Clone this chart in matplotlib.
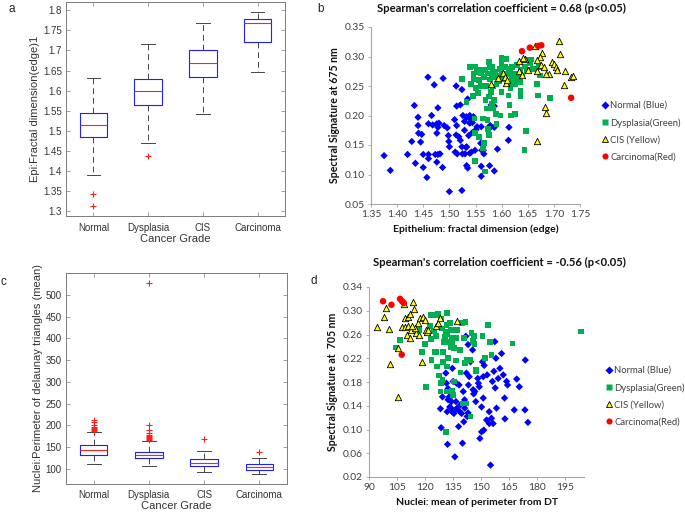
import matplotlib
matplotlib.use("Agg")
import matplotlib.pyplot as plt
from matplotlib.lines import Line2D

W, H = 685, 512

# ---------------- data ----------------
grades = ["Normal", "Dysplasia", "CIS", "Carcinoma"]

# panel a: Epi fractal dimension box stats (whislo, q1, med, q3, whishi)
a_whislo = [1.390, 1.469, 1.542, 1.646]
a_q1 = [1.483, 1.564, 1.634, 1.720]
a_med = [1.514, 1.600, 1.669, 1.768]
a_q3 = [1.544, 1.629, 1.701, 1.778]
a_whishi = [1.631, 1.717, 1.769, 1.797]
a_fliers = [[1.343, 1.311], [1.436], [], []]

# panel c: Nuclei perimeter of delaunay triangles box stats
c_whislo = [111.5, 106.1, 91.5, 87.7]
c_q1 = [132.2, 125.3, 105.4, 97.7]
c_med = [142.2, 131.5, 113.8, 104.6]
c_q3 = [153.7, 137.6, 122.3, 110.7]
c_whishi = [184.4, 164.5, 140.0, 123.8]
c_fliers = [[187, 189, 191, 193, 196, 200, 207, 212],
            [167, 169, 171, 173, 175, 178, 182, 190, 200, 527],
            [168.3], [139.0]]

# panel b scatter: x = epithelium fractal dimension, y = spectral signature at 675 nm
b_normal_x = [1.375, 1.387, 1.420, 1.428, 1.433, 1.435, 1.440, 1.440, 1.441, 1.447, 1.445, 1.450,
              1.450, 1.457, 1.460, 1.460, 1.459, 1.471, 1.488, 1.466, 1.460, 1.468, 1.476, 1.480,
              1.478, 1.476, 1.473, 1.478, 1.482, 1.476, 1.487, 1.478, 1.490, 1.496, 1.498, 1.499,
              1.500, 1.500, 1.524, 1.513, 1.524, 1.535, 1.521, 1.514, 1.510, 1.514, 1.513, 1.511,
              1.515, 1.518, 1.521, 1.524, 1.525, 1.530, 1.532, 1.529, 1.526, 1.533, 1.539, 1.539,
              1.537, 1.533, 1.539, 1.542, 1.533, 1.535, 1.549, 1.544, 1.546, 1.544, 1.553, 1.561,
              1.562, 1.561, 1.561, 1.566, 1.565, 1.578, 1.580, 1.577, 1.586, 1.592, 1.613, 1.614,
              1.586, 1.580, 1.586, 1.560, 1.540, 1.551, 1.529]
b_normal_y = [0.132, 0.107, 0.134, 0.156, 0.217, 0.119, 0.197, 0.183, 0.170, 0.168, 0.155, 0.112,
              0.134, 0.095, 0.134, 0.127, 0.265, 0.252, 0.263, 0.200, 0.186, 0.184, 0.186, 0.187,
              0.180, 0.170, 0.134, 0.134, 0.135, 0.121, 0.112, 0.213, 0.183, 0.179, 0.166, 0.156,
              0.147, 0.071, 0.073, 0.250, 0.244, 0.228, 0.218, 0.216, 0.193, 0.183, 0.167, 0.138,
              0.135, 0.164, 0.158, 0.147, 0.135, 0.135, 0.146, 0.175, 0.200, 0.198, 0.200, 0.187,
              0.166, 0.147, 0.136, 0.138, 0.115, 0.111, 0.141, 0.171, 0.198, 0.188, 0.181, 0.181,
              0.141, 0.114, 0.097, 0.135, 0.141, 0.183, 0.181, 0.115, 0.106, 0.143, 0.158, 0.180,
              0.180, 0.218, 0.216, 0.153, 0.194, 0.176, 0.190]

b_dysp_x = [1.524, 1.541, 1.540, 1.549, 1.552, 1.546, 1.547, 1.557, 1.551, 1.545, 1.533, 1.561,
            1.561, 1.566, 1.568, 1.576, 1.578, 1.574, 1.571, 1.578, 1.576, 1.586, 1.581, 1.584,
            1.572, 1.569, 1.565, 1.573, 1.574, 1.575, 1.576, 1.566, 1.565, 1.548, 1.549, 1.557,
            1.549, 1.568, 1.589, 1.598, 1.590, 1.584, 1.590, 1.593, 1.596, 1.600, 1.600, 1.608,
            1.600, 1.607, 1.613, 1.616, 1.622, 1.629, 1.622, 1.626, 1.636, 1.618, 1.617, 1.600,
            1.613, 1.615, 1.618, 1.626, 1.636, 1.636, 1.648, 1.654, 1.656, 1.647, 1.660, 1.671,
            1.668, 1.670, 1.674, 1.693, 1.646, 1.644, 1.645, 1.636, 1.629, 1.620, 1.582, 1.584,
            1.581, 1.588, 1.587, 1.605, 1.610, 1.596, 1.579, 1.560, 1.555, 1.620, 1.632, 1.640]
b_dysp_y = [0.262, 0.253, 0.282, 0.283, 0.274, 0.270, 0.261, 0.260, 0.247, 0.233, 0.223, 0.278,
            0.271, 0.265, 0.277, 0.291, 0.282, 0.271, 0.250, 0.261, 0.232, 0.226, 0.220, 0.212,
            0.212, 0.226, 0.195, 0.192, 0.177, 0.172, 0.167, 0.154, 0.144, 0.195, 0.170, 0.164,
            0.123, 0.105, 0.203, 0.200, 0.185, 0.249, 0.254, 0.268, 0.279, 0.274, 0.298, 0.296,
            0.287, 0.282, 0.279, 0.274, 0.270, 0.270, 0.260, 0.254, 0.257, 0.254, 0.247, 0.240,
            0.234, 0.218, 0.200, 0.203, 0.232, 0.242, 0.277, 0.288, 0.295, 0.294, 0.279, 0.282,
            0.254, 0.234, 0.268, 0.230, 0.174, 0.141, 0.283, 0.277, 0.285, 0.282, 0.282, 0.274,
            0.265, 0.265, 0.274, 0.262, 0.270, 0.258, 0.240, 0.250, 0.238, 0.265, 0.262, 0.268]

b_cis_x = [1.663, 1.710, 1.711, 1.677, 1.674, 1.668, 1.634, 1.644, 1.640, 1.676, 1.681, 1.696,
           1.700, 1.704, 1.706, 1.690, 1.685, 1.667, 1.650, 1.634, 1.639, 1.602, 1.606, 1.593,
           1.609, 1.579, 1.721, 1.732, 1.737, 1.719, 1.683, 1.685, 1.668, 1.611]
b_cis_y = [0.317, 0.327, 0.305, 0.306, 0.299, 0.294, 0.292, 0.295, 0.298, 0.285, 0.282, 0.291,
           0.288, 0.282, 0.277, 0.271, 0.271, 0.276, 0.277, 0.276, 0.268, 0.272, 0.265, 0.264,
           0.255, 0.254, 0.276, 0.265, 0.267, 0.251, 0.214, 0.205, 0.157, 0.260]

b_carc_x = [1.639, 1.654, 1.670, 1.676, 1.733]
b_carc_y = [0.309, 0.315, 0.318, 0.319, 0.230]

# panel d scatter: x = nuclei mean perimeter from DT, y = spectral signature at 705 nm
d_normal_x = [128.2, 128.6, 129.3, 131.1, 131.8, 132.0, 132.3, 132.9, 133.2, 133.8, 134.1, 134.5,
              134.6, 135.0, 135.4, 135.9, 136.3, 136.8, 137.1, 137.9, 138.2, 138.6, 139.5, 140.0,
              140.4, 140.7, 141.1, 141.2, 141.8, 142.1, 142.5, 143.0, 143.2, 143.6, 144.3, 145.4,
              145.7, 146.6, 147.1, 148.2, 149.0, 149.3, 150.2, 150.2, 150.7, 151.1, 151.1, 151.4,
              151.6, 152.9, 153.2, 154.3, 154.3, 155.0, 155.5, 156.0, 156.4, 156.8, 157.3, 157.5,
              157.9, 158.2, 159.1, 160.0, 160.9, 161.8, 162.5, 162.7, 163.6, 164.1, 167.7, 169.0,
              170.4, 173.6, 173.4, 175.0, 131.4, 132.3, 134.8, 136.5, 139.0, 143.0, 146.0, 148.5]
d_normal_y = [0.135, 0.103, 0.155, 0.195, 0.130, 0.075, 0.150, 0.155, 0.138, 0.136, 0.147, 0.130,
              0.203, 0.181, 0.127, 0.054, 0.133, 0.178, 0.136, 0.105, 0.175, 0.130, 0.127, 0.077,
              0.164, 0.113, 0.150, 0.136, 0.257, 0.195, 0.122, 0.243, 0.175, 0.189, 0.214, 0.234,
              0.167, 0.164, 0.147, 0.186, 0.172, 0.085, 0.096, 0.138, 0.214, 0.189, 0.153, 0.099,
              0.208, 0.116, 0.192, 0.130, 0.110, 0.040, 0.119, 0.181, 0.110, 0.198, 0.248, 0.170,
              0.220, 0.136, 0.186, 0.203, 0.228, 0.192, 0.153, 0.118, 0.181, 0.175, 0.133, 0.185,
              0.172, 0.217, 0.133, 0.112, 0.178, 0.169, 0.158, 0.147, 0.142, 0.128, 0.160, 0.178]

d_dysp_x = [106.6, 104.6, 116.8, 120.0, 120.4, 122.5, 122.9, 125.2, 127.1, 128.4, 124.8, 123.4,
            125.2, 126.1, 126.4, 127.3, 128.4, 128.2, 129.6, 129.5, 130.0, 130.5, 130.9, 131.4,
            131.9, 131.9, 132.3, 131.8, 131.4, 131.3, 133.2, 133.6, 133.2, 133.8, 134.1, 134.6,
            135.0, 135.4, 135.5, 136.4, 137.3, 136.8, 138.6, 138.9, 139.8, 140.7, 141.6, 141.4,
            142.1, 141.4, 140.4, 142.1, 144.3, 143.9, 144.8, 146.1, 145.7, 146.4, 147.1, 147.1,
            150.7, 152.1, 153.8, 154.6, 155.5, 166.8, 203.4, 135.4, 134.5, 134.8, 129.3, 123.0,
            118.4, 126.0, 129.0]
d_dysp_y = [0.251, 0.238, 0.268, 0.244, 0.172, 0.274, 0.293, 0.293, 0.294, 0.287, 0.265, 0.217,
            0.230, 0.230, 0.206, 0.191, 0.178, 0.164, 0.230, 0.214, 0.247, 0.256, 0.264, 0.276,
            0.296, 0.260, 0.220, 0.206, 0.164, 0.096, 0.279, 0.268, 0.247, 0.238, 0.255, 0.244,
            0.268, 0.254, 0.237, 0.216, 0.268, 0.254, 0.234, 0.196, 0.279, 0.254, 0.281, 0.212,
            0.217, 0.144, 0.144, 0.144, 0.122, 0.217, 0.262, 0.257, 0.249, 0.244, 0.198, 0.200,
            0.257, 0.221, 0.276, 0.247, 0.226, 0.245, 0.265, 0.181, 0.165, 0.158, 0.183, 0.253,
            0.230, 0.258, 0.270]

d_cis_x = [94.1, 98.0, 98.9, 100.7, 101.1, 105.5, 105.4, 107.5, 108.8, 109.1, 109.5, 110.5,
           110.9, 111.0, 111.8, 112.1, 112.7, 113.6, 114.1, 115.4, 116.4, 117.1, 116.6, 118.7,
           119.8, 118.6, 120.4, 121.1, 121.6, 126.0, 127.1, 127.9, 137.1, 114.8, 113.2]
d_cis_y = [0.272, 0.289, 0.304, 0.270, 0.211, 0.237, 0.155, 0.273, 0.312, 0.288, 0.272, 0.260,
           0.275, 0.290, 0.294, 0.254, 0.268, 0.314, 0.303, 0.262, 0.279, 0.288, 0.260, 0.289,
           0.284, 0.213, 0.268, 0.264, 0.268, 0.274, 0.279, 0.288, 0.282, 0.271, 0.275]

d_carc_x = [97.5, 102.0, 106.6, 107.7, 108.6, 107.5]
d_carc_y = [0.316, 0.310, 0.320, 0.316, 0.313, 0.226]

b_ticks_x = [1.35, 1.40, 1.45, 1.50, 1.55, 1.60, 1.65, 1.70, 1.75]
b_ticks_y = [0.05, 0.10, 0.15, 0.20, 0.25, 0.30, 0.35]
d_ticks_x = [90, 105, 120, 135, 150, 165, 180, 195]
d_ticks_y = [0.02, 0.06, 0.10, 0.14, 0.18, 0.22, 0.26, 0.30, 0.34]

legend_labels = ["Normal (Blue)", "Dysplasia(Green)", "CIS (Yellow)", "Carcinoma(Red)"]

# ---------------- figure ----------------
fig = plt.figure(figsize=(W / 100, H / 100), dpi=100)
fig.patch.set_facecolor("white")


def px_axes(left, top, right, bottom):
    return fig.add_axes([left / W, 1 - bottom / H, (right - left) / W, (bottom - top) / H])


MAT_TXT = "#333333"
MAT_SP = "#7a7a7a"
MAT_FONT = ["Liberation Sans", "DejaVu Sans"]


def boxpanel(ax, whislo, q1, med, q3, whishi, fliers, ylim, yticks, yticklabels, ylabel, xpad):
    stats = []
    for i in range(4):
        stats.append(dict(whislo=whislo[i], q1=q1[i], med=med[i], q3=q3[i],
                          whishi=whishi[i], fliers=fliers[i], label=grades[i]))
    ax.bxp(stats, positions=[1, 2, 3, 4], widths=0.5, capwidths=0.25,
           boxprops=dict(color="#2020ff", lw=0.8),
           medianprops=dict(color="#ff2020", lw=0.8),
           whiskerprops=dict(color="#444444", lw=0.7, linestyle=(0, (6, 4))),
           capprops=dict(color="#444444", lw=0.7),
           flierprops=dict(marker="+", markeredgecolor="#ff2020", markersize=5, markeredgewidth=0.8))
    ax.set_xlim(0.5, 4.5)
    ax.set_ylim(*ylim)
    ax.set_yticks(yticks)
    ax.set_yticklabels(yticklabels)
    ax.tick_params(direction="in", length=3, width=0.5, colors=MAT_SP, labelcolor=MAT_TXT,
                   labelsize=7, top=True, right=True, pad=3)
    ax.tick_params(axis="x", pad=xpad)
    for lab in ax.get_xticklabels() + ax.get_yticklabels():
        lab.set_family(MAT_FONT)
    for s in ax.spines.values():
        s.set_color(MAT_SP)
        s.set_linewidth(0.7)
    ax.set_xlabel("Cancer Grade", fontsize=8, color=MAT_TXT, labelpad=1, family=MAT_FONT)
    ax.set_ylabel(ylabel, fontsize=8, color=MAT_TXT, labelpad=2, family=MAT_FONT)


# panel a
ax_a = px_axes(66, 2, 285, 216)
a_yt = [1.3, 1.35, 1.4, 1.45, 1.5, 1.55, 1.6, 1.65, 1.7, 1.75, 1.8]
boxpanel(ax_a, a_whislo, a_q1, a_med, a_q3, a_whishi, a_fliers, (1.287, 1.821), a_yt,
         ["1.3", "1.35", "1.4", "1.45", "1.5", "1.55", "1.6", "1.65", "1.7", "1.75", "1.8"],
         "Epi:Fractal dimension(edge)1", 5)

# panel c
ax_c = px_axes(66, 273, 287, 484)
c_yt = [100, 150, 200, 250, 300, 350, 400, 450, 500]
boxpanel(ax_c, c_whislo, c_q1, c_med, c_q3, c_whishi, c_fliers, (64.7, 550.7), c_yt,
         [str(v) for v in c_yt], "Nuclei:Perimeter of delaunay triangles (mean)", 4)

XL_TXT = "#404040"
XL_SP = "#a6a6a6"
SANS = ["Lato", "DejaVu Sans"]


def scatterpanel(ax, series, xlim, ylim, xt, yt, xfmt, yfmt, xlabel, ylabel):
    styles = [dict(marker="D", s=14, c="#0000ff", edgecolors="none"),
              dict(marker="s", s=17, c="#00b050", edgecolors="none"),
              dict(marker="^", s=21, c="#ffff00", edgecolors="black", linewidths=0.6),
              dict(marker="o", s=22, c="#ff0000", edgecolors="none")]
    for (x, y), st in zip(series, styles):
        ax.scatter(x, y, clip_on=False, zorder=3, **st)
    ax.set_xlim(*xlim)
    ax.set_ylim(*ylim)
    ax.set_xticks(xt)
    ax.set_xticklabels([xfmt.format(v) for v in xt])
    ax.set_yticks(yt)
    ax.set_yticklabels([yfmt.format(v) for v in yt])
    for side in ["top", "right"]:
        ax.spines[side].set_visible(False)
    for side in ["left", "bottom"]:
        ax.spines[side].set_color(XL_SP)
        ax.spines[side].set_linewidth(0.8)
    ax.tick_params(direction="out", length=2.5, width=0.6, colors=XL_SP, labelcolor=XL_TXT,
                   labelsize=7.4, pad=2)
    for lab in ax.get_xticklabels() + ax.get_yticklabels():
        lab.set_family(SANS)
    ax.set_xlabel(xlabel, fontsize=7.5, fontweight="bold", family=SANS, color="#111111", labelpad=4)
    ax.set_ylabel(ylabel, fontsize=7.6, fontweight="bold", family=SANS, color="#111111", labelpad=3)


def legend_at(x, y):
    handles = [Line2D([], [], ls="none", marker="D", ms=3.8, mfc="#0000ff", mec="none"),
               Line2D([], [], ls="none", marker="s", ms=4.0, mfc="#00b050", mec="none"),
               Line2D([], [], ls="none", marker="^", ms=4.6, mfc="#ffff00", mec="black", mew=0.6),
               Line2D([], [], ls="none", marker="o", ms=4.4, mfc="#ff0000", mec="none")]
    fig.legend(handles, legend_labels, loc="upper left", bbox_to_anchor=(x / W, 1 - y / H),
               frameon=False, labelspacing=0.85, handlelength=0.6,
               handletextpad=0.25, borderaxespad=0, borderpad=0,
               prop=dict(family=SANS, size=6.8), labelcolor=XL_TXT)


# panel b
ax_b = px_axes(371, 27, 580, 204)
scatterpanel(ax_b,
             [(b_normal_x, b_normal_y), (b_dysp_x, b_dysp_y), (b_cis_x, b_cis_y), (b_carc_x, b_carc_y)],
             (1.35, 1.75), (0.05, 0.35), b_ticks_x, b_ticks_y, "{:.2f}", "{:.2f}",
             "Epithelium: fractal dimension (edge)", "Spectral Signature at 675 nm")
fig.text(501 / W, 1 - 8 / H, "Spearman's correlation coefficient = 0.68 (p<0.05)",
         fontsize=8.1, fontweight="bold", family=SANS, color="#111111", ha="center", va="center")
legend_at(602, 101)

# panel d
ax_d = px_axes(369, 287, 584, 477)
scatterpanel(ax_d,
             [(d_normal_x, d_normal_y), (d_dysp_x, d_dysp_y), (d_cis_x, d_cis_y), (d_carc_x, d_carc_y)],
             (90, 205), (0.02, 0.34), d_ticks_x, d_ticks_y, "{:d}", "{:.2f}",
             "Nuclei: mean of perimeter from DT", "Spectral Signature at  705 nm")
fig.text(499 / W, 1 - 262 / H, "Spearman's correlation coefficient = -0.56 (p<0.05)",
         fontsize=8.1, fontweight="bold", family=SANS, color="#111111", ha="center", va="center")
legend_at(606, 366)

# panel letters
for t, x, y in [("a", 12, 9), ("b", 321, 9), ("c", 3, 282), ("d", 314, 281)]:
    fig.text(x / W, 1 - y / H, t, fontsize=8.5, ha="center", va="center", color="#222222",
             family=MAT_FONT)

fig.savefig("out.png", dpi=100, facecolor="white")
